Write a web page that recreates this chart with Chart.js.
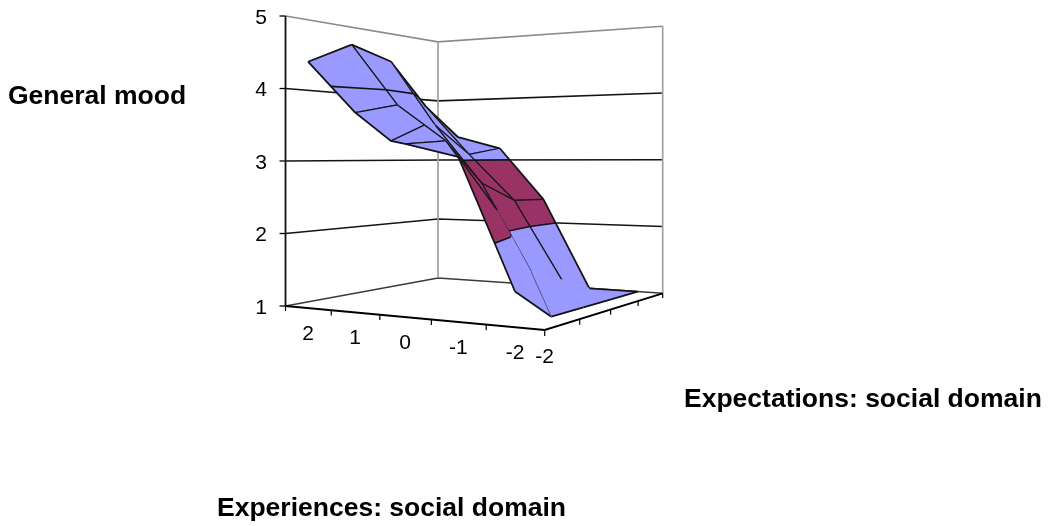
<!DOCTYPE html>
<html>
<head>
<meta charset="utf-8">
<style>
  body { margin: 0; background: #fff; }
  #box { width: 1048px; height: 526px; }
</style>
<script src="https://cdn.jsdelivr.net/npm/chart.js@4/dist/chart.umd.min.js"></script>
</head>
<body>
<div id="box"><canvas id="surface" width="1048" height="526"></canvas></div>
<script>
// data
const experiences = [2, 1, 0, -1, -2];
const expectations = [-2, -1, 0, 1, 2];
const moodTicks = [1, 2, 3, 4, 5];
const moodExp2 = [4.35, 4.67, 4.5, 3.85, 3.38];
const moodExp1 = [3.64, 3.78, 3.52, 3.09, 3.19];
const moodExp0 = [3.22, 3.27, 2.67, 2.39, 2.37];
const moodExpM1 = [3.05, 2.35, 1.44, 1.23, 1.0];
const moodExpM2 = [1.43, 1.0, 1.0, 1.0, 1.0];
const moodGrid = [moodExp2, moodExp1, moodExp0, moodExpM1, moodExpM2];
// extra fold in the sheet between experience 1 and 0
const foldExp = [0.28, 0.44];
const foldExpect = [-2, -1];
const foldMood = [3.26, 3.49];

// corners of the floor and height of the box, used for the perspective
const floorL = [285.5, 306], floorF = [544.7, 330], floorR = [662.7, 293.3], floorB = [438, 278];
const unitAtL = 72.5;
const dx1 = floorF[0] - floorR[0], dx2 = floorB[0] - floorR[0], sx = floorL[0] - floorF[0] + floorR[0] - floorB[0];
const dy1 = floorF[1] - floorR[1], dy2 = floorB[1] - floorR[1], sy = floorL[1] - floorF[1] + floorR[1] - floorB[1];
const det = dx1 * dy2 - dy1 * dx2;
const g = (sx * dy2 - sy * dx2) / det;
const h = (dx1 * sy - dy1 * sx) / det;

function place(u, v, z) {
    const w = 1 + g * u + h * v;
    const x = floorL[0] + (floorF[0] - floorL[0] + g * floorF[0]) * u + (floorB[0] - floorL[0] + h * floorB[0]) * v;
    const y = floorL[1] + (floorF[1] - floorL[1] + g * floorF[1]) * u + (floorB[1] - floorL[1] + h * floorB[1]) * v;
    return { x: x / w, y: y / w - (z - 1) * unitAtL / w };
}
const uOf = exp => 0.5 - exp * 0.2;
const vOf = expect => (expect + 2) / 4;
const sheet = (p) => place(p.u, p.v, p.z);

const datasets = [];
function addLine(points, color, width) {
    datasets.push({ data: points, showLine: true, fill: false, borderColor: color, borderWidth: width, pointRadius: 0 });
}
function addFill(points, color) {
    datasets.push({ data: [...points, points[0]], showLine: true, fill: "shape", backgroundColor: color, borderColor: color, borderWidth: 0.6, pointRadius: 0 });
}

// box walls
const grey = "#8c8c8c", dark = "#141414";
moodTicks.forEach(z => {
    const color = z === 5 ? grey : (z === 1 ? "#3a3a3a" : dark);
    addLine([place(0, 0, z), place(0, 1, z), place(1, 1, z)], color, 1.6);
    const p = place(0, 0, z);
    addLine([{ x: p.x - 6, y: p.y }, p], "#000", 1.3);
});
addLine([place(0, 1, 1), place(0, 1, 5)], "#a0a0a0", 1.7);
addLine([place(1, 1, 1), place(1, 1, 5)], "#a0a0a0", 1.7);
addLine([place(0, 0, 1), place(0, 0, 5)], "#111", 1.8);
addLine([place(0, 0, 1), place(1, 0, 1), place(1, 1, 1)], "#000", 1.9);
for (let k = 0; k <= 5; k++) addLine([place(k / 5, 0, 1), place(k / 5, 0, 0.93)], "#000", 1.2);
for (let k = 1; k <= 4; k++) addLine([place(1, k / 4, 1), place(1, k / 4, 0.93)], "#000", 1.2);

// clip a polygon of {u,v,z} corners to one height band
function clipBand(poly, level, keepAbove) {
    const out = [];
    poly.forEach((a, n) => {
        const b = poly[(n + 1) % poly.length];
        const aIn = keepAbove ? a.z >= level : a.z <= level;
        const bIn = keepAbove ? b.z >= level : b.z <= level;
        if (aIn) out.push(a);
        if (aIn !== bIn) {
            const t = (level - a.z) / (b.z - a.z);
            out.push({ u: a.u + (b.u - a.u) * t, v: a.v + (b.v - a.v) * t, z: level });
        }
    });
    return out;
}
function contour(poly, level) {
    const hits = [];
    poly.forEach((a, n) => {
        const b = poly[(n + 1) % poly.length];
        if ((a.z < level) !== (b.z < level)) {
            const t = (level - a.z) / (b.z - a.z);
            hits.push(place(a.u + (b.u - a.u) * t, a.v + (b.v - a.v) * t, level));
        }
    });
    return hits;
}
const bandColor = lo => (lo === 2 ? "#993366" : "#9999ff");
// mesh lines that do not show in the reference
const hiddenEdges = ["c3,1", "c3,2", "c3,3", "a3,1", "a3,2", "a3,3", "c1,1", "c0,1x"];

const cells = [];
for (let i = 0; i < 4; i++) for (let j = 0; j < 4; j++) cells.push([i, j]);
cells.sort((p, q) => (g * p[0] / 4 + h * p[1]) < (g * q[0] / 4 + h * q[1]) ? 1 : -1);

const corner = (i, j) => ({ u: uOf(experiences[i]), v: vOf(expectations[j]), z: moodGrid[i][j] });
const foldA = { u: uOf(foldExp[0]), v: vOf(foldExpect[0]), z: foldMood[0] };
const foldB = { u: uOf(foldExp[1]), v: vOf(foldExpect[1]), z: foldMood[1] };

cells.forEach(([i, j]) => {
    const poly = [corner(i, j), corner(i + 1, j), corner(i + 1, j + 1), corner(i, j + 1)];
    [1, 2, 3, 4].forEach(lo => {
        const part = clipBand(clipBand(poly, lo === 1 ? 0 : lo, true), lo + 1, false);
        if (part.length > 2) addFill(part.map(sheet), bandColor(lo));
    });
    if (i === 1 && j === 0) addFill([corner(1, 0), foldA, corner(2, 0)].map(sheet), "#9999ff");
    [2, 3, 4].forEach(level => {
        const hits = contour(poly, level);
        for (let n = 0; n + 1 < hits.length; n += 2) addLine([hits[n], hits[n + 1]], dark, 1.6);
    });
    // along = same expectation, cross = same experience
    [[i, j, i + 1, j, "a" + i + "," + j], [i, j + 1, i + 1, j + 1, "a" + i + "," + (j + 1)],
     [i, j, i, j + 1, "c" + i + "," + j], [i + 1, j, i + 1, j + 1, "c" + (i + 1) + "," + j]].forEach(e => {
        if (hiddenEdges.includes(e[4])) return;
        const outer = e[1] === 0 && e[3] === 0 || e[0] === 0 && e[2] === 0 || e[1] === 4 && e[3] === 4 || e[0] === 4 && e[2] === 4;
        if (e[4] === "a1,0") {
            addLine([corner(1, 0), foldA, corner(2, 0)].map(sheet), dark, 1.8);
        } else {
            addLine([sheet(corner(e[0], e[1])), sheet(corner(e[2], e[3]))], dark, outer ? 1.8 : 1.2);
        }
    });
    if (i === 1 && j === 0) addLine([foldA, foldB].map(sheet), dark, 1.5);
});
// faint crease on the lower sheet
addLine([corner(3, 2), corner(4, 1)].map(sheet), "#55558a", 1);

datasets.forEach((d, n) => { d.order = datasets.length - n; });

const textPlugin = {
    id: "boxText",
    afterDraw(chart) {
        const ctx = chart.ctx, sx = chart.scales.x, sy = chart.scales.y;
        const at = p => ({ x: sx.getPixelForValue(p.x), y: sy.getPixelForValue(p.y) });
        ctx.save();
        ctx.fillStyle = "#000";
        ctx.textBaseline = "alphabetic";
        ctx.font = "21px 'Liberation Sans', Arial, sans-serif";
        ctx.textAlign = "right";
        moodTicks.forEach(z => {
            const p = at(place(0, 0, z));
            ctx.fillText(String(z), p.x - 18.5, p.y + 7.5);
        });
        ctx.textAlign = "center";
        experiences.forEach(exp => {
            const p = at(place(uOf(exp), 0, 1));
            ctx.fillText(String(exp), p.x, p.y + 32);
        });
        const q = at(place(1, 0, 1));
        ctx.fillText(String(expectations[0]), q.x, q.y + 33);
        ctx.font = "bold 26.5px 'Liberation Sans', Arial, sans-serif";
        ctx.textAlign = "left";
        ctx.fillText("General mood", 8, 104);
        ctx.fillText("Expectations: social domain", 684, 406.7);
        ctx.fillText("Experiences: social domain", 217, 515.7);
        ctx.restore();
    }
};

new Chart(document.getElementById("surface"), {
    type: "scatter",
    data: { datasets: datasets },
    options: {
        responsive: false,
        animation: false,
        layout: { padding: 0 },
        plugins: { legend: { display: false }, tooltip: { enabled: false } },
        scales: {
            x: { type: "linear", min: 0, max: 1048, display: false },
            y: { type: "linear", min: 0, max: 526, reverse: true, display: false }
        }
    },
    plugins: [textPlugin]
});
</script>
</body>
</html>
